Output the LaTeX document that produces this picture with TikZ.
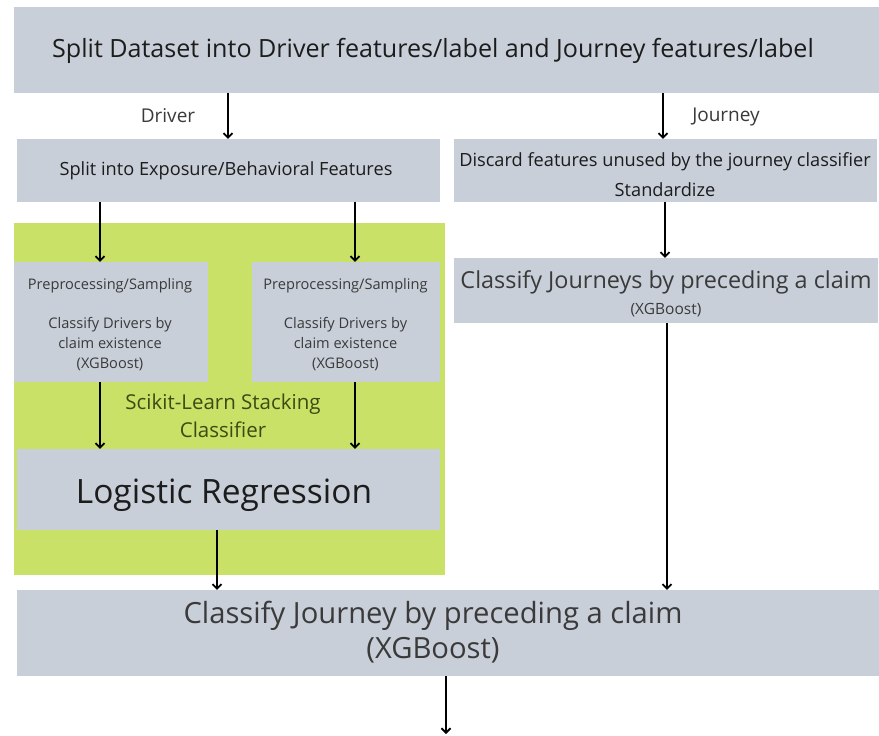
\documentclass[tikz,border=0pt]{standalone}
\usepackage{fontspec}
\setmainfont{Open Sans}
\usetikzlibrary{arrows.meta}
\definecolor{boxgray}{HTML}{C8CFD9}
\definecolor{stackgreen}{HTML}{C9E166}
\definecolor{txtdark}{HTML}{1C1C1C}
\definecolor{txtlabel}{HTML}{3A3A3A}
\definecolor{txtolive}{HTML}{3E4A12}
\tikzset{
  box/.style={fill=boxgray, draw=none, inner sep=0pt, anchor=center},
  greenbox/.style={fill=stackgreen, draw=none, inner sep=0pt, anchor=center},
  txt/.style={inner sep=0pt, align=center, text=txtdark, anchor=center},
  arr/.style={line width=2pt, draw=black, -{Straight Barb[length=4.5pt,width=9pt,line width=1.8pt]}},
}
\newcommand{\fs}[2]{\fontsize{#1}{#2}\selectfont}
\begin{document}
\begin{tikzpicture}[x=1pt,y=-1pt]
\useasboundingbox[fill=white] (0,0) rectangle (879,736);
% boxes
\node[box, minimum width=865pt, minimum height=86pt] (top) at (446.5,50) {};
\node[box, minimum width=423pt, minimum height=63pt] (split) at (228.5,170.5) {};
\node[box, minimum width=423pt, minimum height=63pt] (discard) at (665.5,170.5) {};
\node[greenbox, minimum width=431pt, minimum height=352pt] (stack) at (229.5,399) {};
\node[box, minimum width=194pt, minimum height=120pt] (prepA) at (111,322) {};
\node[box, minimum width=188pt, minimum height=120pt] (prepB) at (346,322) {};
\node[box, minimum width=423pt, minimum height=81pt] (logreg) at (228.5,489.5) {};
\node[box, minimum width=424pt, minimum height=65pt] (cjs) at (666,290.5) {};
\node[box, minimum width=862pt, minimum height=86pt] (final) at (448,633) {};
\coordinate (out) at (446,734);
% texts
\node[txt, font=\fs{25.1}{30}] (tTop) at (433,51) {Split Dataset into Driver features/label and Journey features/label};
\node[txt, font=\fs{19}{23}, text=txtlabel] (lDriver) at (168,116) {Driver};
\node[txt, font=\fs{19}{23}, text=txtlabel] (lJourney) at (726,117) {Journey};
\node[txt, font=\fs{18.2}{22}] (tSplit) at (226,171) {Split into Exposure/Behavioral Features};
\node[txt, font=\fs{18.2}{30}] (tDiscard) at (665,175) {Discard features unused by the journey classifier\\Standardize};
\node[txt, font=\fs{14.6}{20}, text=txtlabel] (tPrepA) at (110,325) {Preprocessing/Sampling\\[19pt]Classify Drivers by\\claim existence\\(XGBoost)};
\node[txt, font=\fs{14.6}{20}, text=txtlabel] (tPrepB) at (345.5,325) {Preprocessing/Sampling\\[19pt]Classify Drivers by\\claim existence\\(XGBoost)};
\node[txt, font=\fs{20.5}{28}, text=txtolive] (tStack) at (223,416) {Scikit-Learn Stacking\\Classifier};
\node[txt, font=\fs{33.5}{40}] (tLR) at (224,495) {Logistic Regression};
\node[txt, font=\fs{23.4}{28}, text=txtlabel] (tCJs) at (666,282) {Classify Journeys by preceding a claim};
\node[txt, font=\fs{15.5}{20}, text=txtlabel] (tCJsX) at (666,310) {(XGBoost)};
\node[txt, font=\fs{29.2}{35}, text=txtlabel] (tFinal) at (433,632) {Classify Journey by preceding a claim\\(XGBoost)};
% connectors
\draw[arr] (top.south -| 228,0) -- (split.north -| 228,0);
\draw[arr] (top.south -| 663,0) -- (discard.north -| 663,0);
\draw[arr] (split.south -| 100,0) -- (prepA.north -| 100,0);
\draw[arr] (split.south -| 355,0) -- (prepB.north -| 355,0);
\draw[arr] (prepA.south -| 100,0) -- (logreg.north -| 100,0);
\draw[arr] (prepB.south -| 355,0) -- (logreg.north -| 355,0);
\draw[arr] (discard.south -| 665,0) -- (cjs.north -| 665,0);
\draw[arr] (logreg.south -| 217,0) -- (final.north -| 217,0);
\draw[arr] (cjs.south -| 667,0) -- (final.north -| 667,0);
\draw[arr] (final.south -| 446,0) -- (out);
\end{tikzpicture}
\end{document}
